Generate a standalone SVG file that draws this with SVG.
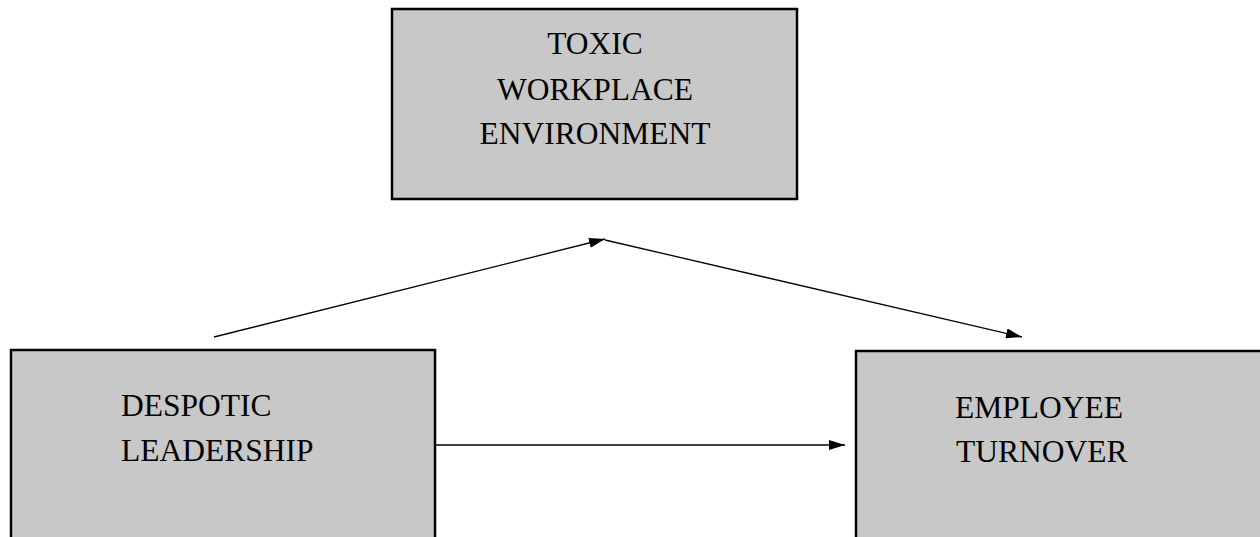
<svg xmlns="http://www.w3.org/2000/svg" width="1260" height="537" viewBox="0 0 1260 537">
<style>
.box{fill:#c8c8c8;stroke:#000;stroke-width:2.5}
.lbl{font-family:"Liberation Serif","Times New Roman",serif;font-size:31.5px;fill:#000}
.edge{stroke:#000;stroke-width:1.3;fill:none}
</style>
<defs>
<marker id="ah" viewBox="0 0 16 10" refX="16" refY="5" markerWidth="16" markerHeight="10" markerUnits="userSpaceOnUse" orient="auto">
<path d="M0,0 L16,5 L0,10 Z" fill="#000"/>
</marker>
</defs>
<rect width="1260" height="537" fill="#fff"/>
<g id="toxic">
<rect class="box" x="392" y="9" width="405" height="190"/>
<text class="lbl" x="595" y="54" text-anchor="middle">TOXIC</text>
<text class="lbl" x="595" y="99.5" text-anchor="middle">WORKPLACE</text>
<text class="lbl" x="595" y="143.5" text-anchor="middle">ENVIRONMENT</text>
</g>
<g id="despotic">
<rect class="box" x="11" y="350" width="424" height="200"/>
<text class="lbl" x="121" y="416">DESPOTIC</text>
<text class="lbl" x="121" y="461">LEADERSHIP</text>
</g>
<g id="turnover">
<rect class="box" x="856" y="351" width="410" height="200"/>
<text class="lbl" x="955" y="418">EMPLOYEE</text>
<text class="lbl" x="956" y="462">TURNOVER</text>
</g>
<g id="connectors">
<line class="edge" x1="214" y1="337" x2="605" y2="239" marker-end="url(#ah)"/>
<line class="edge" x1="605" y1="240" x2="1022" y2="337" marker-end="url(#ah)"/>
<line class="edge" x1="435" y1="445" x2="845" y2="445" marker-end="url(#ah)"/>
</g>
</svg>
